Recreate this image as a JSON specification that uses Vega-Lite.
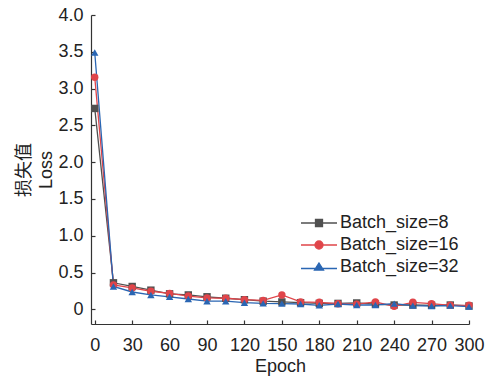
{
  "$schema": "https://vega.github.io/schema/vega-lite/v6.json",
  "width": 378,
  "height": 309,
  "autosize": "none",
  "padding": {"left": 91, "top": 15, "right": 22, "bottom": 60},
  "config": {
    "view": {"stroke": null},
    "font": "Liberation Sans",
    "axis": {
      "grid": false,
      "domainColor": "#333333",
      "domainWidth": 1.2,
      "tickColor": "#333333",
      "tickWidth": 1.2,
      "tickSize": -4,
      "labelFont": "Liberation Sans",
      "labelFontSize": 18,
      "labelColor": "#222222",
      "titleFont": "Liberation Sans, Noto Sans CJK SC",
      "titleFontSize": 18,
      "titleFontWeight": "normal",
      "titleColor": "#222222"
    },
    "legend": {
      "orient": "none",
      "legendX": 219,
      "legendY": 199,
      "symbolSize": 100,
      "labelFontSize": 18,
      "labelFont": "Liberation Sans",
      "labelColor": "#222222",
      "labelOffset": 12,
      "rowPadding": 4,
      "symbolStrokeWidth": 1.3,
      "symbolOpacity": 1
    }
  },
  "data": {
    "values": [
      {"series": "Batch_size=8", "epoch": 0, "loss": 2.73},
      {"series": "Batch_size=8", "epoch": 15, "loss": 0.36},
      {"series": "Batch_size=8", "epoch": 30, "loss": 0.31},
      {"series": "Batch_size=8", "epoch": 45, "loss": 0.26},
      {"series": "Batch_size=8", "epoch": 60, "loss": 0.21},
      {"series": "Batch_size=8", "epoch": 75, "loss": 0.195},
      {"series": "Batch_size=8", "epoch": 90, "loss": 0.17},
      {"series": "Batch_size=8", "epoch": 105, "loss": 0.15},
      {"series": "Batch_size=8", "epoch": 120, "loss": 0.13},
      {"series": "Batch_size=8", "epoch": 135, "loss": 0.11},
      {"series": "Batch_size=8", "epoch": 150, "loss": 0.1},
      {"series": "Batch_size=8", "epoch": 165, "loss": 0.09},
      {"series": "Batch_size=8", "epoch": 180, "loss": 0.08},
      {"series": "Batch_size=8", "epoch": 195, "loss": 0.08},
      {"series": "Batch_size=8", "epoch": 210, "loss": 0.086},
      {"series": "Batch_size=8", "epoch": 225, "loss": 0.07},
      {"series": "Batch_size=8", "epoch": 240, "loss": 0.058},
      {"series": "Batch_size=8", "epoch": 255, "loss": 0.058},
      {"series": "Batch_size=8", "epoch": 270, "loss": 0.054},
      {"series": "Batch_size=8", "epoch": 285, "loss": 0.058},
      {"series": "Batch_size=8", "epoch": 300, "loss": 0.045},
      {"series": "Batch_size=16", "epoch": 0, "loss": 3.155},
      {"series": "Batch_size=16", "epoch": 15, "loss": 0.33},
      {"series": "Batch_size=16", "epoch": 30, "loss": 0.29},
      {"series": "Batch_size=16", "epoch": 45, "loss": 0.245},
      {"series": "Batch_size=16", "epoch": 60, "loss": 0.215},
      {"series": "Batch_size=16", "epoch": 75, "loss": 0.18},
      {"series": "Batch_size=16", "epoch": 90, "loss": 0.155},
      {"series": "Batch_size=16", "epoch": 105, "loss": 0.15},
      {"series": "Batch_size=16", "epoch": 120, "loss": 0.13},
      {"series": "Batch_size=16", "epoch": 135, "loss": 0.12},
      {"series": "Batch_size=16", "epoch": 150, "loss": 0.195},
      {"series": "Batch_size=16", "epoch": 165, "loss": 0.1},
      {"series": "Batch_size=16", "epoch": 180, "loss": 0.095},
      {"series": "Batch_size=16", "epoch": 195, "loss": 0.075},
      {"series": "Batch_size=16", "epoch": 210, "loss": 0.07},
      {"series": "Batch_size=16", "epoch": 225, "loss": 0.1},
      {"series": "Batch_size=16", "epoch": 240, "loss": 0.04},
      {"series": "Batch_size=16", "epoch": 255, "loss": 0.095},
      {"series": "Batch_size=16", "epoch": 270, "loss": 0.077},
      {"series": "Batch_size=16", "epoch": 285, "loss": 0.054},
      {"series": "Batch_size=16", "epoch": 300, "loss": 0.054},
      {"series": "Batch_size=32", "epoch": 0, "loss": 3.49},
      {"series": "Batch_size=32", "epoch": 15, "loss": 0.31},
      {"series": "Batch_size=32", "epoch": 30, "loss": 0.235},
      {"series": "Batch_size=32", "epoch": 45, "loss": 0.195},
      {"series": "Batch_size=32", "epoch": 60, "loss": 0.17},
      {"series": "Batch_size=32", "epoch": 75, "loss": 0.14},
      {"series": "Batch_size=32", "epoch": 90, "loss": 0.11},
      {"series": "Batch_size=32", "epoch": 105, "loss": 0.11},
      {"series": "Batch_size=32", "epoch": 120, "loss": 0.09},
      {"series": "Batch_size=32", "epoch": 135, "loss": 0.08},
      {"series": "Batch_size=32", "epoch": 150, "loss": 0.077},
      {"series": "Batch_size=32", "epoch": 165, "loss": 0.072},
      {"series": "Batch_size=32", "epoch": 180, "loss": 0.054},
      {"series": "Batch_size=32", "epoch": 195, "loss": 0.072},
      {"series": "Batch_size=32", "epoch": 210, "loss": 0.058},
      {"series": "Batch_size=32", "epoch": 225, "loss": 0.058},
      {"series": "Batch_size=32", "epoch": 240, "loss": 0.077},
      {"series": "Batch_size=32", "epoch": 255, "loss": 0.05},
      {"series": "Batch_size=32", "epoch": 270, "loss": 0.045},
      {"series": "Batch_size=32", "epoch": 285, "loss": 0.05},
      {"series": "Batch_size=32", "epoch": 300, "loss": 0.036}
    ]
  },
  "encoding": {
    "x": {
      "field": "epoch", "type": "quantitative",
      "scale": {"domain": [-3, 300], "nice": false, "zero": false},
      "axis": {"values": [0, 30, 60, 90, 120, 150, 180, 210, 240, 270, 300], "title": "Epoch", "labelPadding": 16, "titlePadding": 3, "labelFlush": false}
    },
    "y": {
      "field": "loss", "type": "quantitative",
      "scale": {"domain": [-0.2, 4], "nice": false, "zero": false},
      "axis": {
        "values": [0, 0.5, 1, 1.5, 2, 2.5, 3, 3.5, 4],
        "labelExpr": "datum.value === 0 ? '0' : format(datum.value, '.1f')",
        "title": ["损失值", "Loss"],
        "titleLineHeight": 22,
        "labelPadding": 12,
        "titlePadding": 2,
        "labelFlush": false
      }
    }
  },
  "layer": [
    {
      "mark": {"type": "line", "strokeWidth": 1.3},
      "encoding": {
        "color": {
          "field": "series", "type": "nominal",
          "scale": {"domain": ["Batch_size=8", "Batch_size=16", "Batch_size=32"], "range": ["#505050", "#e0454a", "#2a66b3"]},
          "legend": null
        }
      }
    },
    {
      "mark": {"type": "point", "filled": true, "opacity": 1, "size": 55},
      "encoding": {
        "shape": {
          "field": "series", "type": "nominal",
          "scale": {"domain": ["Batch_size=8", "Batch_size=16", "Batch_size=32"], "range": ["square", "circle", "triangle-up"]},
          "legend": null
        },
        "color": {
          "field": "series", "type": "nominal",
          "legend": null
        }
      }
    },
    {
      "mark": {"type": "point", "filled": true, "opacity": 1, "size": 55, "clip": true, "strokeWidth": 1.3},
      "encoding": {
        "y": {"datum": -10, "type": "quantitative"},
        "shape": {
          "field": "series", "type": "nominal",
          "scale": {"domain": ["Batch_size=8", "Batch_size=16", "Batch_size=32"], "range": [
            "M-3.6,0L3.6,0M-0.7,-0.7L0.7,-0.7L0.7,0.7L-0.7,0.7Z",
            "M-3.6,0L-0.8,0A0.8,0.8 0 1,1 0.8,0L3.6,0M0.8,0A0.8,0.8 0 1,1 -0.8,0Z",
            "M-3.6,0.3L3.6,0.3M0,-0.8L0.9,0.6L-0.9,0.6Z"
          ]},
          "legend": {"title": null}
        },
        "color": {
          "field": "series", "type": "nominal",
          "legend": {"title": null}
        },
        "stroke": {
          "field": "series", "type": "nominal",
          "scale": {"domain": ["Batch_size=8", "Batch_size=16", "Batch_size=32"], "range": ["#505050", "#e0454a", "#2a66b3"]},
          "legend": {"title": null}
        }
      }
    }
  ],
  "resolve": {"scale": {"shape": "independent"}, "legend": {"color": "independent", "shape": "independent", "stroke": "independent"}}
}
